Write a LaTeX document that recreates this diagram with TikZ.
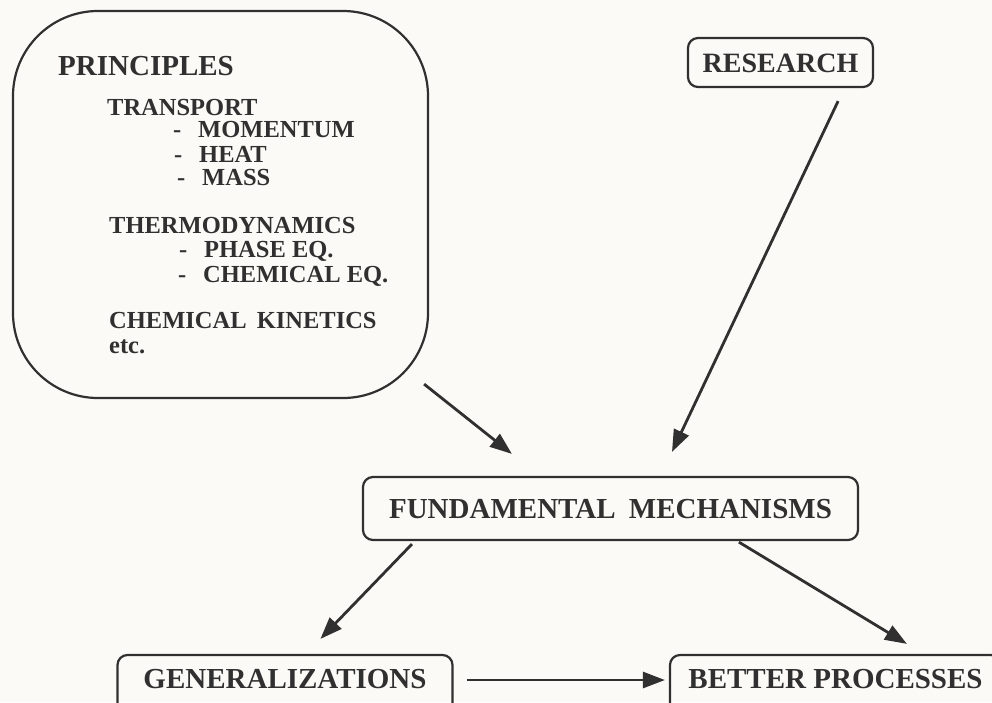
\documentclass[tikz,border=0pt]{standalone}
\usepackage{fontspec}
\setmainfont{Liberation Serif}
\usetikzlibrary{arrows.meta}
\definecolor{ink}{RGB}{48,48,48}
\definecolor{paper}{RGB}{252,250,246}
\begin{document}
\begin{tikzpicture}[x=1pt,y=-1pt,
  lbl/.style={anchor=base west, inner sep=0pt, text=ink, font=\bfseries\fontsize{24.5}{28}\selectfont},
  biglbl/.style={lbl, font=\bfseries\fontsize{29}{33}\selectfont},
  box/.style={draw=ink, line width=2.2pt, rounded corners=10pt, text=ink, font=\bfseries\fontsize{29}{33}\selectfont, text height=20pt, text depth=0pt, inner sep=0pt},
  bigbox/.style={draw=ink, line width=2.2pt, rounded corners=85pt, inner sep=0pt},
  arr/.style={draw=ink, line width=2.8pt, -{Triangle[length=22pt,width=16pt]}}]
\useasboundingbox (0,0) rectangle (992,702);
\fill[paper] (0,0) rectangle (992,702);
\clip (0,0) rectangle (992,702);
% principles box
\node[bigbox, minimum width=415pt, minimum height=387pt] (prin) at (220.5,204.5) {};
\node[biglbl] (p0) at (58,75) {PRINCIPLES};
\node[lbl] (p1) at (107,115) {TRANSPORT};
\node[lbl] (p2) at (173,137) {\makebox[25pt][l]{-}MOMENTUM};
\node[lbl] (p3) at (174,162) {\makebox[25pt][l]{-}HEAT};
\node[lbl] (p4) at (177,185) {\makebox[25pt][l]{-}MASS};
\node[lbl] (p5) at (109,233) {THERMODYNAMICS};
\node[lbl] (p6) at (179,257) {\makebox[25pt][l]{-}PHASE EQ.};
\node[lbl] (p7) at (178,282) {\makebox[25pt][l]{-}CHEMICAL EQ.};
\node[lbl] (p8) at (109,328) {CHEMICAL\hspace{4pt} KINETICS};
\node[lbl] (p9) at (109,353) {etc.};
% other boxes
\node[box, font=\bfseries\fontsize{28}{32}\selectfont, text height=19pt, minimum width=185pt, minimum height=49pt] (res) at (780.5,62.5) {RESEARCH};
\node[box, minimum width=495pt, minimum height=63pt] (fm) at (610.5,508.5) {FUNDAMENTAL\hspace{6pt} MECHANISMS};
\node[box, text depth=16pt, minimum width=335pt, minimum height=62pt] (gen) at (285,686) {GENERALIZATIONS};
\node[box, text depth=16pt, minimum width=331pt, minimum height=62pt] (bet) at (835.5,686) {BETTER PROCESSES};
% arrows
\draw[arr] ([xshift=-5pt,yshift=15pt]prin.south east) -- ([xshift=150pt,yshift=22pt]fm.north west);
\draw[arr] ([xshift=-36pt,yshift=-13pt]res.south east) -- ([xshift=61.5pt,yshift=24pt]fm.north);
\draw[arr] ([xshift=50pt,yshift=-3pt]fm.south west) -- ([xshift=204pt,yshift=15pt]gen.north west);
\draw[arr] ([xshift=377pt,yshift=-1pt]fm.south west) -- ([xshift=238pt,yshift=10pt]bet.north west);
\draw[arr] ([xshift=13pt,yshift=6pt]gen.east) -- ([xshift=-4pt,yshift=6pt]bet.west);
\end{tikzpicture}
\end{document}
